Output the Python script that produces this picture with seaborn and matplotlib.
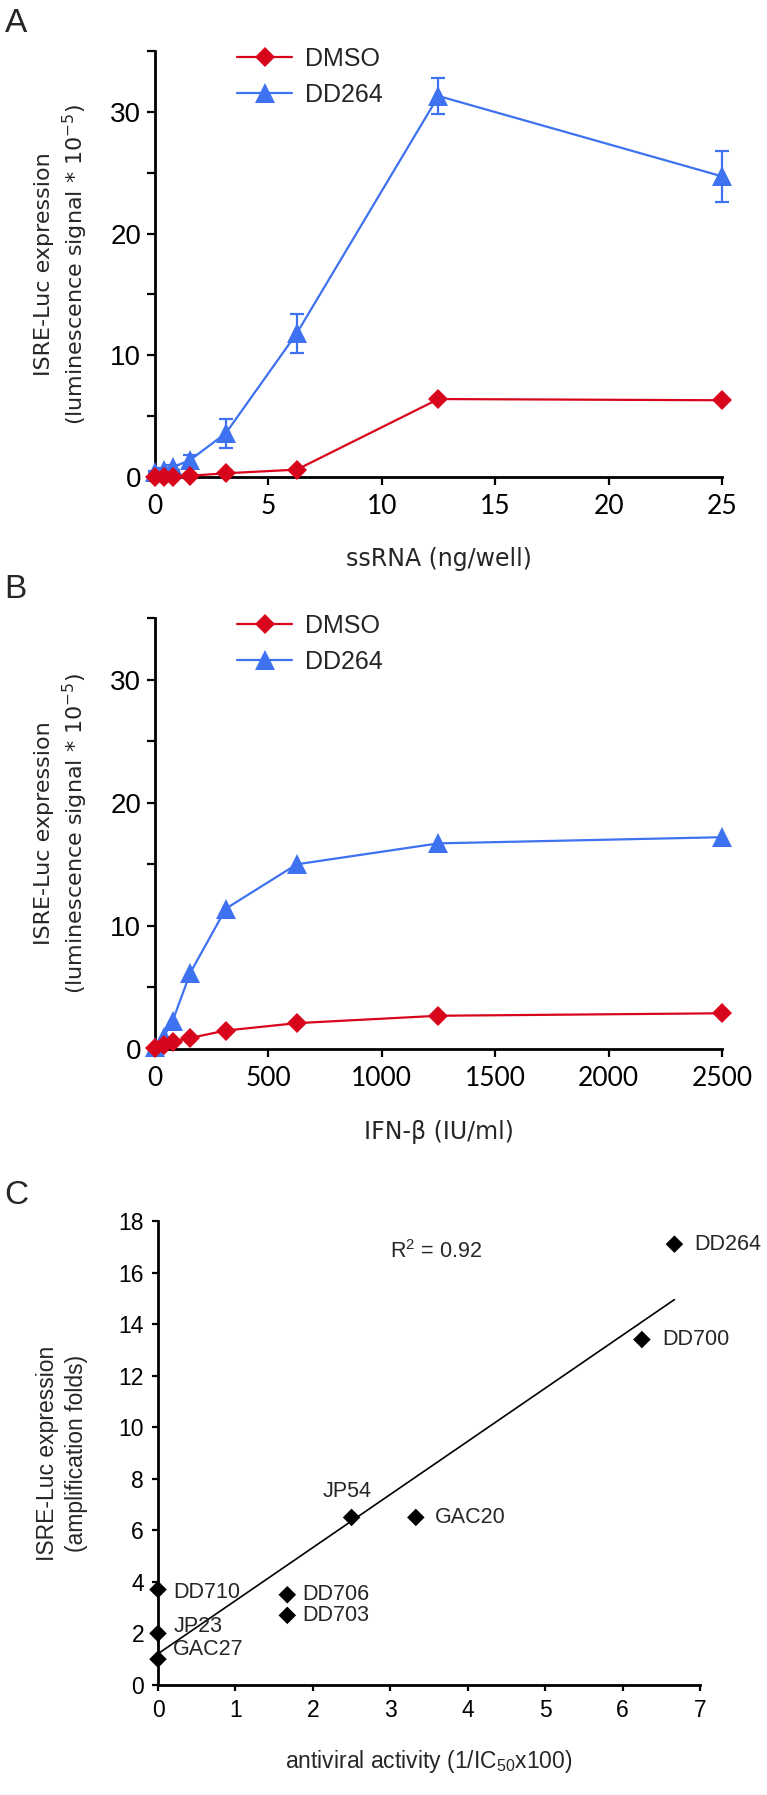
import numpy as np
import pandas as pd
import matplotlib
matplotlib.use("Agg")
import matplotlib.pyplot as plt
from matplotlib.lines import Line2D
from matplotlib.ticker import MultipleLocator
import seaborn as sns

# ==========================================
# DATA
# ==========================================
ssrna_dose = [0, 0.39, 0.78, 1.56, 3.125, 6.25, 12.5, 25]
dmso_ssrna = [0.0, 0.0, 0.0, 0.1, 0.3, 0.6, 6.4, 6.3]
dd264_ssrna = [0.4, 0.6, 0.8, 1.4, 3.6, 11.8, 31.3, 24.7]
dd264_ssrna_err = [0.1, 0.1, 0.2, 0.4, 1.2, 1.6, 1.5, 2.1]

ifn_dose = [0, 39, 78, 156, 312.5, 625, 1250, 2500]
dmso_ifn = [0.1, 0.3, 0.6, 0.9, 1.5, 2.1, 2.7, 2.9]
dd264_ifn = [0.2, 1.0, 2.3, 6.2, 11.4, 15.0, 16.7, 17.2]

compounds = ["DD264", "DD700", "JP54", "GAC20", "DD706", "DD703", "DD710", "JP23", "GAC27"]
antiviral = [6.67, 6.25, 2.5, 3.33, 1.67, 1.67, 0, 0, 0]
amplification = [17.1, 13.4, 6.5, 6.5, 3.5, 2.7, 3.7, 2.0, 1.0]

treatments = ["DMSO", "DD264"]

# ==========================================
# STYLE
# ==========================================
sns.set_theme(style="ticks")
plt.rcParams["font.family"] = ["Liberation Sans", "DejaVu Sans"]
plt.rcParams["mathtext.default"] = "regular"

RED = "#D8061C"
BLUE = "#3F72F0"
palette = {"DMSO": RED, "DD264": BLUE}
markers = {"DMSO": "D", "DD264": "^"}
msizes = {"DMSO": 10, "DD264": 15}

ylab_ab = "ISRE-Luc expression\n(luminescence signal * 10$^{-5}$)"

fig = plt.figure(figsize=(7.67, 17.95), dpi=100)
ax_a = fig.add_axes([0.2021, 0.7343, 0.7392, 0.2373])
ax_b = fig.add_axes([0.2021, 0.4156, 0.7392, 0.2401])
ax_c = fig.add_axes([0.2060, 0.0613, 0.7066, 0.2585])


def dose_panel(ax, dose, dmso, dd264, xlabel, xmax, xstep):
    df = pd.DataFrame({
        "dose": list(dose) * 2,
        "signal": list(dmso) + list(dd264),
        "treatment": ["DMSO"] * len(dose) + ["DD264"] * len(dose),
    })
    for t in treatments:
        sub = df[df["treatment"] == t]
        sns.lineplot(data=sub, x="dose", y="signal", color=palette[t], marker=markers[t],
                     markersize=msizes[t], markeredgewidth=0, linewidth=1.6,
                     ax=ax, clip_on=False, zorder=3 if t == "DD264" else 4)
    ax.set_xlim(0, xmax)
    ax.set_ylim(0, 35)
    ax.yaxis.set_major_locator(MultipleLocator(10))
    ax.yaxis.set_minor_locator(MultipleLocator(5))
    ax.xaxis.set_major_locator(MultipleLocator(xstep))
    ax.tick_params(axis="both", which="both", direction="out", length=6, width=1.6, colors="black")
    ax.tick_params(axis="y", labelsize=20, pad=4)
    ax.tick_params(axis="x", labelsize=19, pad=6)
    for lab in ax.get_xticklabels():
        lab.set_family(["Lato", "DejaVu Sans"])
    for s in ["left", "bottom"]:
        ax.spines[s].set_linewidth(2.0)
        ax.spines[s].set_color("black")
    sns.despine(ax=ax)
    ax.set_xlabel(xlabel, fontsize=17, family=["DejaVu Sans"])
    ax.xaxis.set_label_coords(0.5, -0.165)
    ax.set_ylabel(ylab_ab, fontsize=16, family=["DejaVu Sans"], linespacing=1.3)
    ax.yaxis.set_label_coords(-0.115, 0.5)
    handles = [Line2D([], [], color=palette[t], marker=markers[t], markersize=msizes[t],
                      markeredgewidth=0, linewidth=1.6) for t in treatments]
    ax.legend(handles, treatments, loc="upper left", bbox_to_anchor=(0.145, 1.01),
              frameon=False, fontsize=18, borderpad=0, borderaxespad=0,
              handlelength=2.2, handletextpad=0.5, labelspacing=0.5)


dose_panel(ax_a, ssrna_dose, dmso_ssrna, dd264_ssrna, "ssRNA (ng/well)", 25, 5)
ax_a.errorbar(ssrna_dose, dd264_ssrna, yerr=dd264_ssrna_err, fmt="none", ecolor=BLUE,
              elinewidth=1.6, capsize=5, capthick=1.6, clip_on=False, zorder=2)

dose_panel(ax_b, ifn_dose, dmso_ifn, dd264_ifn, "IFN-\u03b2 (IU/ml)", 2500, 500)

# ---------------- Panel C ----------------
df_c = pd.DataFrame({"compound": compounds, "antiviral": antiviral, "amplification": amplification})
sns.regplot(data=df_c, x="antiviral", y="amplification", scatter=False, ci=None, truncate=True,
            color="black", line_kws={"linewidth": 1.2}, ax=ax_c)
sns.scatterplot(data=df_c, x="antiviral", y="amplification", marker="D", color="black",
                s=80, edgecolor="none", ax=ax_c, clip_on=False, zorder=4)

label_offsets = {
    "DD264": (14, 0, "left"), "DD700": (15, 0, "left"), "JP54": (-3, 19, "center"),
    "GAC20": (14, 0, "left"), "DD706": (11, 0, "left"), "DD703": (11, 0, "left"),
    "DD710": (11, -2, "left"), "JP23": (11, 5, "left"), "GAC27": (11, 7, "left"),
}
for name, xv, yv in zip(compounds, antiviral, amplification):
    dx, dy, ha = label_offsets[name]
    ax_c.annotate(name, (xv, yv), xytext=(dx, dy), textcoords="offset points",
                  ha=ha, va="center", fontsize=15.5)

ax_c.annotate("R$^{2}$ = 0.92", (3.0, 16.8), ha="left", va="center", fontsize=15.5)

ax_c.set_xlim(0, 7)
ax_c.set_ylim(0, 18)
ax_c.xaxis.set_major_locator(MultipleLocator(1))
ax_c.yaxis.set_major_locator(MultipleLocator(2))
ax_c.tick_params(axis="both", direction="out", length=4, width=1.6, labelsize=16.5,
                 colors="black", pad=6)
for s in ["left", "bottom"]:
    ax_c.spines[s].set_linewidth(2.0)
    ax_c.spines[s].set_color("black")
sns.despine(ax=ax_c)
ax_c.set_xlabel("antiviral activity (1/IC$_{50}$x100)", fontsize=16.5)
ax_c.xaxis.set_label_coords(0.5, -0.135)
ax_c.set_ylabel("ISRE-Luc expression\n(amplification folds)", fontsize=16.5, linespacing=1.3)
ax_c.yaxis.set_label_coords(-0.13, 0.5)

# panel letters
fig.text(0.006, 1 - 23 / 1795, "A", fontsize=24, va="center", ha="left")
fig.text(0.006, 1 - 590 / 1795, "B", fontsize=24, va="center", ha="left")
fig.text(0.006, 1 - 1195 / 1795, "C", fontsize=24, va="center", ha="left")

fig.savefig("out.png", dpi=100)
plt.close(fig)
